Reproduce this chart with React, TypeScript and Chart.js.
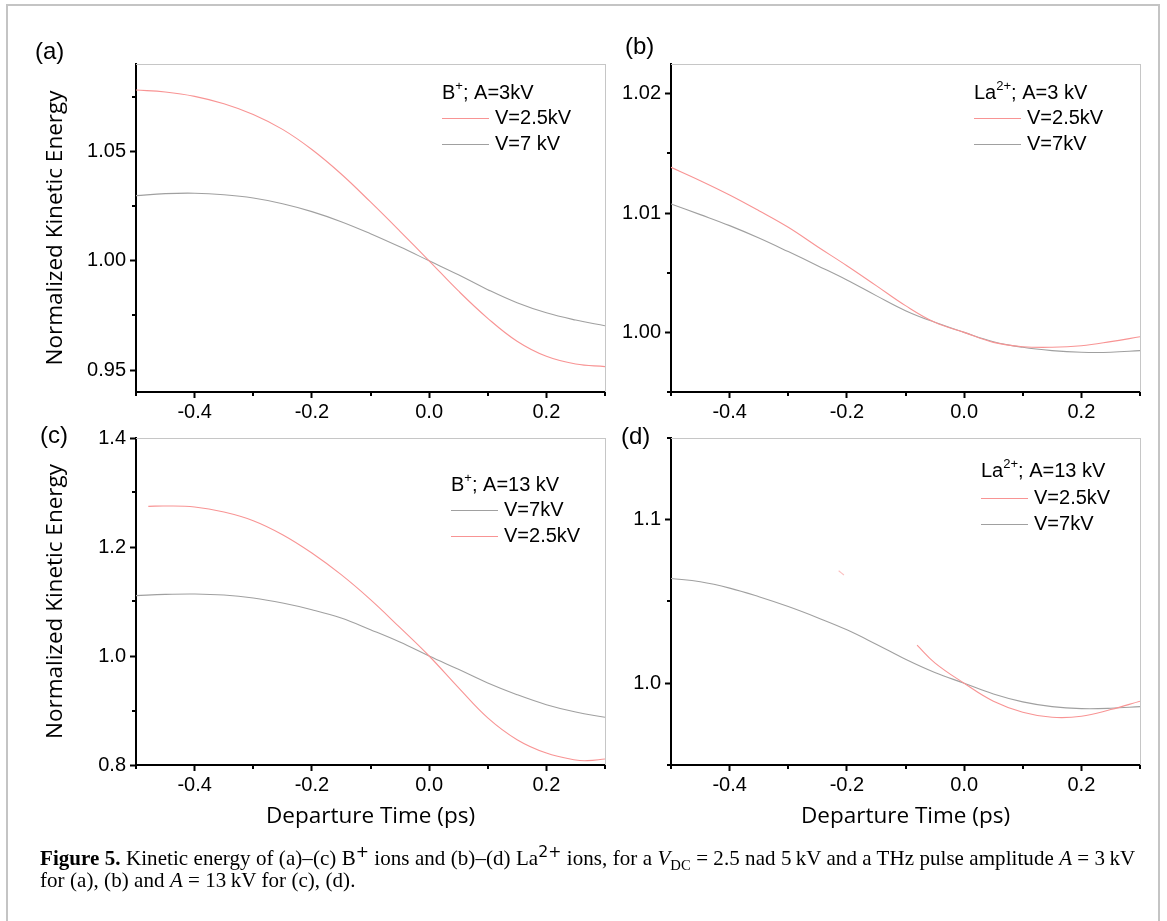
import React, { useEffect, useRef } from 'react';
import { Chart, registerables } from 'chart.js';

Chart.register(...registerables);

// ---------------- data ----------------
const departureTime = [-0.5, -0.45, -0.4, -0.35, -0.3, -0.25, -0.2, -0.15, -0.1, -0.05, 0, 0.05, 0.1, 0.15, 0.2, 0.25, 0.3];

// (a) B+ ; A = 3 kV
const aV25 = [1.0781, 1.0772, 1.0752, 1.0718, 1.0669, 1.0601, 1.0509, 1.0397, 1.0269, 1.0136, 1.0, 0.9862, 0.9737, 0.9632, 0.9563, 0.9528, 0.9516];
const aV7 = [1.0298, 1.0307, 1.0309, 1.0302, 1.0287, 1.0261, 1.0225, 1.0179, 1.0124, 1.0064, 1.0, 0.9936, 0.9868, 0.9808, 0.9762, 0.9729, 0.9703];

// (b) La2+ ; A = 3 kV
const bV25 = [1.01384, 1.01272, 1.01152, 1.0102, 1.00881, 1.00718, 1.00559, 1.00392, 1.00224, 1.00084, 1.0, 0.99916, 0.9988, 0.99875, 0.99888, 0.99922, 0.99963];
const bV7 = [1.01076, 1.00987, 1.00895, 1.00791, 1.00677, 1.00559, 1.00439, 1.00308, 1.00182, 1.00084, 1.0, 0.99922, 0.99875, 0.99847, 0.99833, 0.99833, 0.99847];

// (c) B+ ; A = 13 kV
const cV25Time = [-0.479, -0.45, -0.4, -0.35, -0.3, -0.25, -0.2, -0.15, -0.1, -0.05, 0, 0.05, 0.1, 0.15, 0.2, 0.25, 0.27, 0.3];
const cV25 = [1.2746, 1.2752, 1.2734, 1.2642, 1.2483, 1.2226, 1.189, 1.1492, 1.1034, 1.0524, 1.0, 0.942, 0.8865, 0.8465, 0.822, 0.8092, 0.808, 0.811];
const cV7 = [1.1107, 1.1131, 1.1138, 1.1119, 1.1064, 1.0972, 1.085, 1.0697, 1.0483, 1.0257, 1.0, 0.9755, 0.9505, 0.929, 0.9107, 0.8972, 0.8875];

// (d) La2+ ; A = 13 kV
const dV25Time = [-0.0803, -0.05, 0, 0.05, 0.1, 0.15, 0.2, 0.25, 0.3];
const dV25 = [1.0233, 1.0125, 1.0, 0.989, 0.9823, 0.9792, 0.9798, 0.9839, 0.989];
const dV25SpeckTime = [-0.214, -0.205];
const dV25Speck = [1.0688, 1.0662];
const dV7 = [1.0641, 1.0621, 1.0582, 1.0529, 1.0469, 1.0401, 1.0327, 1.0239, 1.0147, 1.0066, 1.0, 0.9934, 0.9886, 0.9857, 0.9845, 0.9847, 0.9857];

// ticks
const xMajorTicks = [-0.4, -0.2, 0.0, 0.2];
const xMinorTicks = [-0.5, -0.3, -0.1, 0.1, 0.3];
const aYMajor = [0.95, 1.0, 1.05];
const aYMinor = [0.975, 1.025, 1.075];
const bYMajor = [1.0, 1.01, 1.02];
const bYMinor = [0.995, 1.005, 1.015];
const cYMajor = [0.8, 1.0, 1.2, 1.4];
const cYMinor = [0.9, 1.1, 1.3];
const dYMajor = [1.0, 1.1];
const dYMinor = [0.95, 1.05, 1.15];

const RED = 'rgb(248,148,148)';
const GRAY = 'rgb(160,160,160)';
const SANS = '"Liberation Sans", Arial, sans-serif';
const TITLE_FONT = '"Open Sans", "Noto Sans", sans-serif';

type Seg = { t: string; sup?: boolean };
interface Series { label: string; x: number[]; y: number[]; color: string }
interface PanelCfg {
  id: string;
  canvas: { left: number; top: number; width: number; height: number };
  plot: { left: number; top: number; right: number; bottom: number };
  yMin: number; yMax: number; yMajor: number[]; yMinor: number[]; yDec: number;
  series: Series[];
  legend: { dx: number; dy: number; rows: number[]; lineLen: number; textDx: number; header: Seg[]; order: number[] };
  yTitle: boolean; xTitle: boolean;
}

const panels: PanelCfg[] = [
  {
    id: 'a',
    canvas: { left: 0, top: 30, width: 615, height: 410 },
    plot: { left: 136, top: 64, right: 605, bottom: 392 },
    yMin: 0.94, yMax: 1.09, yMajor: aYMajor, yMinor: aYMinor, yDec: 2,
    series: [
      { label: 'V=2.5kV', x: departureTime, y: aV25, color: RED },
      { label: 'V=7 kV', x: departureTime, y: aV7, color: GRAY },
    ],
    legend: { dx: 306, dy: 29, rows: [25, 51], lineLen: 47, textDx: 359, header: [{ t: 'B' }, { t: '+', sup: true }, { t: '; A=3kV' }], order: [0, 1] },
    yTitle: true, xTitle: false,
  },
  {
    id: 'b',
    canvas: { left: 580, top: 30, width: 570, height: 410 },
    plot: { left: 671, top: 64, right: 1140, bottom: 392 },
    yMin: 0.995, yMax: 1.0225, yMajor: bYMajor, yMinor: bYMinor, yDec: 2,
    series: [
      { label: 'V=2.5kV', x: departureTime, y: bV25, color: RED },
      { label: 'V=7kV', x: departureTime, y: bV7, color: GRAY },
    ],
    legend: { dx: 303, dy: 29, rows: [25, 51], lineLen: 47, textDx: 356, header: [{ t: 'La' }, { t: '2+', sup: true }, { t: '; A=3 kV' }], order: [0, 1] },
    yTitle: false, xTitle: false,
  },
  {
    id: 'c',
    canvas: { left: 0, top: 420, width: 615, height: 440 },
    plot: { left: 136, top: 438, right: 605, bottom: 765 },
    yMin: 0.8, yMax: 1.4, yMajor: cYMajor, yMinor: cYMinor, yDec: 1,
    series: [
      { label: 'V=2.5kV', x: cV25Time, y: cV25, color: RED },
      { label: 'V=7kV', x: departureTime, y: cV7, color: GRAY },
    ],
    legend: { dx: 315, dy: 47, rows: [25, 51], lineLen: 47, textDx: 368, header: [{ t: 'B' }, { t: '+', sup: true }, { t: '; A=13 kV' }], order: [1, 0] },
    yTitle: true, xTitle: true,
  },
  {
    id: 'd',
    canvas: { left: 580, top: 420, width: 570, height: 440 },
    plot: { left: 671, top: 438, right: 1140, bottom: 765 },
    yMin: 0.95, yMax: 1.15, yMajor: dYMajor, yMinor: dYMinor, yDec: 1,
    series: [
      { label: 'V=2.5kV', x: dV25Time, y: dV25, color: RED },
      { label: 'V=7kV', x: departureTime, y: dV7, color: GRAY },
      { label: '', x: dV25SpeckTime, y: dV25Speck, color: 'rgba(248,148,148,0.6)' },
    ],
    legend: { dx: 310, dy: 33.5, rows: [26.5, 52.5], lineLen: 47, textDx: 363, header: [{ t: 'La' }, { t: '2+', sup: true }, { t: '; A=13 kV' }], order: [0, 1] },
    yTitle: false, xTitle: true,
  },
];

const panelLabels = [
  { t: '(a)', left: 35, top: 37 },
  { t: '(b)', left: 625, top: 32 },
  { t: '(c)', left: 40, top: 421 },
  { t: '(d)', left: 621, top: 422 },
];

const decorPlugin = {
  id: 'decor',
  afterDraw(chart: any, _args: any, opts: any) {
    const { ctx, chartArea: ca, scales } = chart;
    ctx.save();
    // top & right frame
    ctx.fillStyle = '#c6c6c6';
    ctx.fillRect(Math.round(ca.left), Math.round(ca.top), Math.round(ca.right - ca.left) + 1, 1);
    ctx.fillRect(Math.round(ca.right), Math.round(ca.top), 1, Math.round(ca.bottom - ca.top));
    // minor ticks
    ctx.fillStyle = '#000';
    for (const v of opts.xMinor as number[]) {
      const px = Math.round(scales.x.getPixelForValue(v));
      ctx.fillRect(px - 1, ca.bottom, 2, 4);
    }
    for (const v of opts.yMinor as number[]) {
      const py = Math.round(scales.y.getPixelForValue(v));
      ctx.fillRect(ca.left - 4, py - 1, 4, 2);
    }
    // legend
    const L = opts.legend;
    let x = ca.left + L.dx;
    const y0 = ca.top + L.dy;
    ctx.fillStyle = '#000';
    ctx.textBaseline = 'middle';
    ctx.textAlign = 'left';
    for (const s of L.header as Seg[]) {
      if (s.sup) {
        ctx.font = `13px ${SANS}`;
        ctx.fillText(s.t, x, y0 - 7);
      } else {
        ctx.font = `20px ${SANS}`;
        ctx.fillText(s.t, x, y0);
      }
      x += ctx.measureText(s.t).width;
    }
    ctx.font = `20px ${SANS}`;
    (L.order as number[]).forEach((di, r) => {
      const ds = chart.data.datasets[di];
      const yy = Math.round(y0 + L.rows[r]);
      ctx.fillStyle = String(ds.borderColor);
      ctx.fillRect(Math.round(ca.left + L.dx), yy, L.lineLen, 1);
      ctx.fillStyle = '#000';
      ctx.fillText(ds.label, ca.left + L.textDx, yy);
    });
    ctx.restore();
  },
};

function Panel({ cfg }: { cfg: PanelCfg }) {
  const ref = useRef<HTMLCanvasElement | null>(null);
  useEffect(() => {
    const c = cfg.canvas;
    const p = cfg.plot;
    const chart = new Chart(ref.current as HTMLCanvasElement, {
      type: 'line',
      data: {
        datasets: cfg.series.map((s) => ({
          label: s.label,
          data: s.x.map((t, i) => ({ x: t, y: s.y[i] })),
          borderColor: s.color,
          backgroundColor: s.color,
          borderWidth: 1.1,
          pointRadius: 0,
          fill: false,
          tension: 0.4,
        })),
      },
      options: {
        animation: false,
        responsive: false,
        maintainAspectRatio: false,
        events: [],
        layout: { padding: { top: p.top - c.top, right: c.left + c.width - p.right, bottom: 0, left: 0 } },
        plugins: {
          legend: { display: false },
          tooltip: { enabled: false },
          decor: { xMinor: xMinorTicks, yMinor: cfg.yMinor, legend: cfg.legend },
        } as any,
        scales: {
          x: {
            type: 'linear',
            min: -0.5,
            max: 0.3,
            afterBuildTicks: (s: any) => { s.ticks = xMajorTicks.map((v) => ({ value: v })); },
            afterFit: (s: any) => { s.height = c.top + c.height - p.bottom; },
            ticks: { callback: (v: any) => Number(v).toFixed(1), font: { family: SANS, size: 20 }, color: '#000', padding: 2, maxRotation: 0, autoSkip: false },
            grid: { display: true, drawOnChartArea: false, drawTicks: true, tickLength: 6, tickColor: '#000', tickWidth: 2 },
            border: { display: true, color: '#000', width: 2 },
            title: { display: cfg.xTitle, text: 'Departure Time (ps)', color: '#000', font: { family: TITLE_FONT, size: 22.5 }, padding: { top: 0, bottom: 30 } },
          },
          y: {
            type: 'linear',
            min: cfg.yMin,
            max: cfg.yMax,
            afterBuildTicks: (s: any) => { s.ticks = cfg.yMajor.map((v) => ({ value: v })); },
            afterFit: (s: any) => { s.width = p.left - c.left; },
            ticks: { callback: (v: any) => Number(v).toFixed(cfg.yDec), font: { family: SANS, size: 20 }, color: '#000', padding: 4, autoSkip: false },
            grid: { display: true, drawOnChartArea: false, drawTicks: true, tickLength: 6, tickColor: '#000', tickWidth: 2 },
            border: { display: true, color: '#000', width: 2 },
            title: { display: cfg.yTitle, text: 'Normalized Kinetic Energy', color: '#000', font: { family: TITLE_FONT, size: 22.5 }, padding: { top: 42, bottom: 0 } },
          },
        },
      } as any,
      plugins: [decorPlugin],
    });
    return () => chart.destroy();
  }, [cfg]);
  return (
    <canvas
      ref={ref}
      width={cfg.canvas.width}
      height={cfg.canvas.height}
      style={{ position: 'absolute', left: cfg.canvas.left, top: cfg.canvas.top, width: cfg.canvas.width, height: cfg.canvas.height }}
    />
  );
}

const supStyle: React.CSSProperties = { fontSize: '0.75em', verticalAlign: 'super', lineHeight: 0, fontFamily: '"DejaVu Sans", sans-serif' };
const subStyle: React.CSSProperties = { fontSize: '0.7em', verticalAlign: 'sub', lineHeight: 0 };

export default function App() {
  return (
    <div style={{ position: 'absolute', left: 0, top: 0, width: 1167, height: 921, background: '#fff', overflow: 'hidden' }}>
      <div style={{ position: 'absolute', left: 6, top: 4, width: 1150, height: 930, borderLeft: '2px solid #c4c4c4', borderTop: '2px solid #c4c4c4', borderRight: '2px solid #c4c4c4' }} />
      {panels.map((p) => (
        <Panel key={p.id} cfg={p} />
      ))}
      {panelLabels.map((l) => (
        <div key={l.t} style={{ position: 'absolute', left: l.left, top: l.top, fontFamily: SANS, fontSize: 24, lineHeight: '28px', color: '#000' }}>{l.t}</div>
      ))}
      <div style={{ position: 'absolute', left: 40, top: 847, fontFamily: '"Liberation Serif", serif', fontSize: 21, lineHeight: '22px', color: '#000', whiteSpace: 'nowrap', letterSpacing: '0.06px' }}>
        <div>
          <b>Figure 5.</b> Kinetic energy of (a)–(c) B<sup style={supStyle}>+</sup> ions and (b)–(d) La<sup style={supStyle}>2+</sup> ions, for a <i>V</i>
          <sub style={subStyle}>DC</sub> = 2.5 nad 5{'\u2009'}kV and a THz pulse amplitude <i>A</i> = 3{'\u2009'}kV
        </div>
        <div>
          for (a), (b) and <i>A</i> = 13{'\u2009'}kV for (c), (d).
        </div>
      </div>
    </div>
  );
}
